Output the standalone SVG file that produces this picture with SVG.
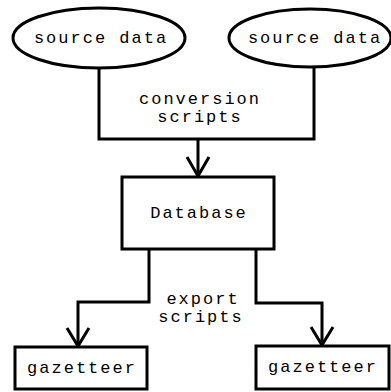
<svg xmlns="http://www.w3.org/2000/svg" width="391" height="392" viewBox="0 0 391 392">
  <style>
    .shape { fill: #ffffff; stroke: #000000; stroke-width: 3; }
    .wire { fill: none; stroke: #000000; stroke-width: 3; stroke-linejoin: miter; }
    .head { fill: none; stroke: #000000; stroke-width: 3; stroke-linejoin: miter; }
    text { font-family: "Liberation Mono", "Courier New", monospace; font-size: 17px; letter-spacing: 2px; fill: #000000; text-anchor: middle; }
  </style>
  <rect width="391" height="392" fill="#ffffff"/>

  <!-- connectors -->
  <g id="connectors">
    <polyline class="wire" points="99,68 99,139 314,139 314,68"/>
    <line class="wire" x1="198" y1="139" x2="198" y2="176"/>
    <polyline class="head" points="187,157 198,176 209,157"/>
    <polyline class="wire" points="149,249 149,302 78,302 78,346"/>
    <polyline class="head" points="67,328 78,346 89,328"/>
    <polyline class="wire" points="256,249 256,303 322,303 322,345"/>
    <polyline class="head" points="311,327 322,345 333,327"/>
  </g>

  <!-- edge labels -->
  <g id="labels">
    <text x="200" y="104">conversion</text>
    <text x="200" y="122">scripts</text>
    <text x="203" y="304">export</text>
    <text x="201" y="322">scripts</text>
  </g>

  <g id="source1">
    <ellipse class="shape" cx="99" cy="38" rx="86" ry="30"/>
    <text x="101" y="43">source data</text>
  </g>

  <g id="source2">
    <ellipse class="shape" cx="310" cy="38" rx="81" ry="29"/>
    <text x="315" y="43">source data</text>
  </g>

  <g id="database">
    <rect class="shape" x="122" y="177" width="152" height="72"/>
    <text x="199" y="218">Database</text>
  </g>

  <g id="gazetteer1">
    <rect class="shape" x="15" y="347" width="132" height="42"/>
    <text x="82" y="373">gazetteer</text>
  </g>

  <g id="gazetteer2">
    <rect class="shape" x="256" y="346" width="133" height="43"/>
    <text x="323" y="372">gazetteer</text>
  </g>
</svg>
